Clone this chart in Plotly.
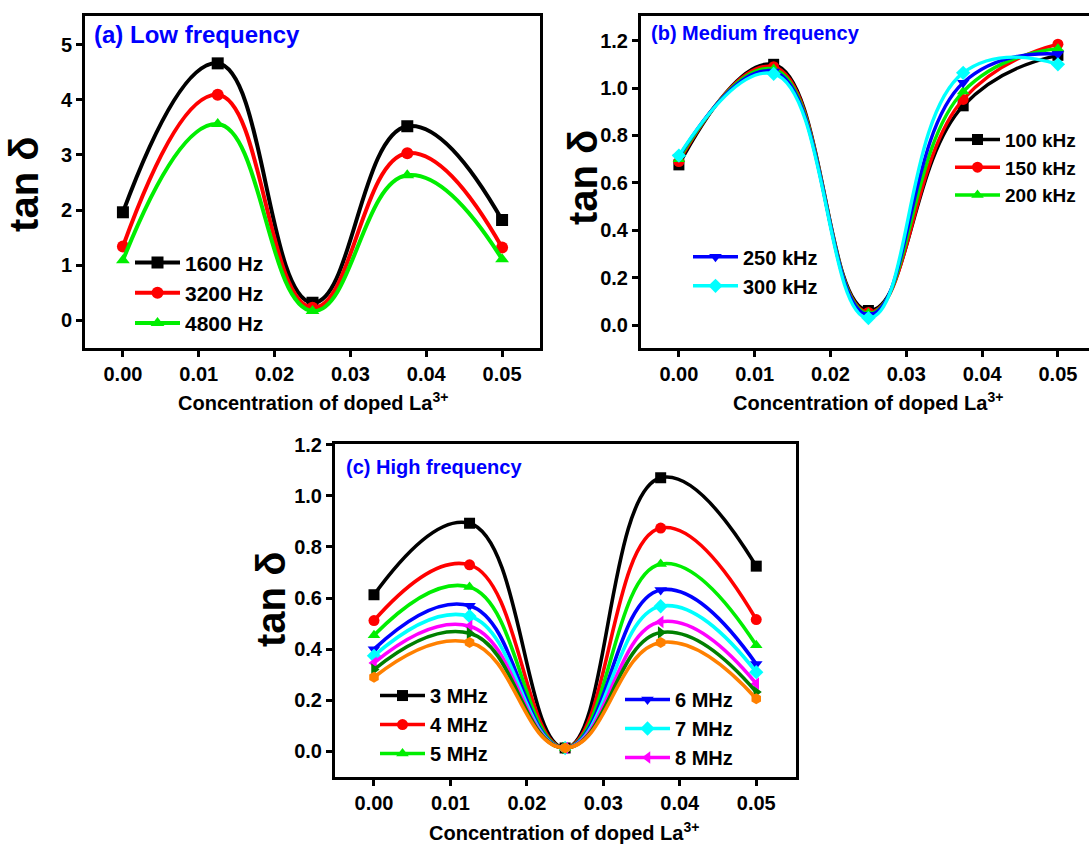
import plotly.graph_objects as go

# ---------------- data ----------------
conc = [0.0, 0.0125, 0.025, 0.0375, 0.05]

low_names = ["1600 Hz", "3200 Hz", "4800 Hz"]
low_vals = {
    "1600 Hz": [1.96, 4.66, 0.32, 3.52, 1.82],
    "3200 Hz": [1.34, 4.09, 0.23, 3.03, 1.32],
    "4800 Hz": [1.09, 3.56, 0.17, 2.63, 1.11],
}

med_names = ["100 kHz", "150 kHz", "200 kHz", "250 kHz", "300 kHz"]
med_vals = {
    "100 kHz": [0.676, 1.10, 0.062, 0.925, 1.138],
    "150 kHz": [0.690, 1.09, 0.054, 0.952, 1.185],
    "200 kHz": [0.700, 1.08, 0.050, 0.985, 1.166],
    "250 kHz": [0.710, 1.07, 0.044, 1.022, 1.143],
    "300 kHz": [0.715, 1.06, 0.030, 1.064, 1.100],
}

high_names = ["3 MHz", "4 MHz", "5 MHz", "6 MHz", "7 MHz", "8 MHz", "9 MHz", "10 MHz"]
high_vals = {
    "3 MHz": [0.613, 0.893, 0.013, 1.071, 0.725],
    "4 MHz": [0.512, 0.730, 0.013, 0.874, 0.516],
    "5 MHz": [0.454, 0.643, 0.013, 0.733, 0.415],
    "6 MHz": [0.400, 0.570, 0.013, 0.632, 0.342],
    "7 MHz": [0.374, 0.529, 0.013, 0.568, 0.310],
    "8 MHz": [0.346, 0.490, 0.013, 0.507, 0.265],
    "9 MHz": [0.320, 0.462, 0.013, 0.465, 0.232],
    "10 MHz": [0.290, 0.426, 0.013, 0.426, 0.206],
}

# ---------------- styles ----------------
colors = ["#000000", "#FF0000", "#00EE00", "#0000FF", "#00FFFF", "#FF00FF", "#008000", "#FF8000"]
symbols = ["square", "circle", "triangle-up", "triangle-down", "diamond",
           "triangle-left", "triangle-right", "hexagon"]

W, H = 1089, 847
FONT = "Liberation Sans, Arial, sans-serif"


def px(x):
    return x / W


def py(y):
    return 1 - y / H


fig = go.Figure()


def add_series(names, vals, xa, ya, legends, legend_flags, lw=3.8, ms=12):
    for i, n in enumerate(names):
        fig.add_trace(go.Scatter(
            x=conc, y=vals[n], name=n, xaxis=xa, yaxis=ya,
            mode="lines+markers",
            line=dict(color=colors[i], width=lw, shape="spline", smoothing=1.3),
            marker=dict(symbol=symbols[i], size=ms, color=colors[i]),
            legend=legends[i], showlegend=legend_flags[i],
        ))


add_series(low_names, low_vals, "x", "y", ["legend"] * 3, [True] * 3, lw=4, ms=12)
add_series(med_names, med_vals, "x2", "y2",
           ["legend2"] * 3 + ["legend3"] * 2, [True] * 5, lw=3.4, ms=11)
add_series(high_names, high_vals, "x3", "y3",
           ["legend4"] * 3 + ["legend5"] * 3 + ["legend5"] * 2,
           [True] * 6 + [False] * 2, lw=3.6, ms=11)

tickfont = dict(family=FONT, size=20, color="black", weight="bold")
axis_common = dict(showline=True, linewidth=3, linecolor="black", ticks="outside",
                   ticklen=6, tickwidth=2.5, tickcolor="black", showgrid=False,
                   zeroline=False, tickfont=tickfont)

fig.update_layout(
    width=W, height=H, margin=dict(l=0, r=0, t=0, b=0),
    paper_bgcolor="white", plot_bgcolor="white",
    xaxis=dict(domain=[px(85), px(540)], range=[-0.005, 0.055], anchor="y",
               dtick=0.01, tick0=0, tickformat=".2f", mirror=True, **axis_common),
    yaxis=dict(domain=[py(342), py(6)], range=[-0.50, 5.52], anchor="x",
               dtick=1, tick0=0, mirror=True, **axis_common),
    xaxis2=dict(domain=[px(641), 1.0], range=[-0.005, 0.0541], anchor="y2",
                dtick=0.01, tick0=0, tickformat=".2f", mirror=True, **axis_common),
    yaxis2=dict(domain=[py(342), py(6)], range=[-0.096, 1.304], anchor="x2",
                dtick=0.2, tick0=0, tickformat=".1f", mirror=False, **axis_common),
    xaxis3=dict(domain=[px(335), px(796)], range=[-0.0051, 0.0552], anchor="y3",
                dtick=0.01, tick0=0, tickformat=".2f", mirror=True, **axis_common),
    yaxis3=dict(domain=[py(776), py(439)], range=[-0.1, 1.204], anchor="x3",
                dtick=0.2, tick0=0, tickformat=".1f", mirror=True, **axis_common),
)


def legend_cfg(x, y, size):
    return dict(x=px(x), y=py(y), xanchor="left", yanchor="top",
                bgcolor="rgba(0,0,0,0)", borderwidth=0, itemwidth=45,
                font=dict(family=FONT, size=size, color="black", weight="bold"),
                tracegroupgap=0)


fig.update_layout(
    legend=legend_cfg(130, 235, 21),
    legend2=legend_cfg(950, 112, 19),
    legend3=legend_cfg(688, 230, 20),
    legend4=legend_cfg(375, 674, 20),
    legend5=legend_cfg(620, 678, 20),
)

ann = []
titlefont = dict(family=FONT, color="#0000FF", weight="bold")
ann.append(dict(text="(a) Low frequency", x=px(92), y=py(25), xanchor="left", yanchor="middle",
                font=dict(size=24, **titlefont)))
ann.append(dict(text="(b) Medium frequency", x=px(649), y=py(23), xanchor="left", yanchor="middle",
                font=dict(size=20, **titlefont)))
ann.append(dict(text="(c) High frequency", x=px(344), y=py(462), xanchor="left", yanchor="middle",
                font=dict(size=20, **titlefont)))

ytfont = dict(family=FONT, size=40, color="black", weight="bold")
for xx, yy in [(24, 177), (583, 170), (271, 597)]:
    ann.append(dict(text="tan δ", x=px(xx), y=py(yy), textangle=-90,
                    xanchor="center", yanchor="middle", font=ytfont))

xtfont = dict(family=FONT, size=20, color="black", weight="bold")
for xx, yy in [(313, 396), (868, 396), (564, 831)]:
    ann.append(dict(text="Concentration of doped La<sup>3+</sup>", x=px(xx), y=py(yy),
                    xanchor="center", yanchor="middle", font=xtfont))

for a in ann:
    a.update(xref="paper", yref="paper", showarrow=False)
fig.update_layout(annotations=ann)

fig.write_html("out.html")
